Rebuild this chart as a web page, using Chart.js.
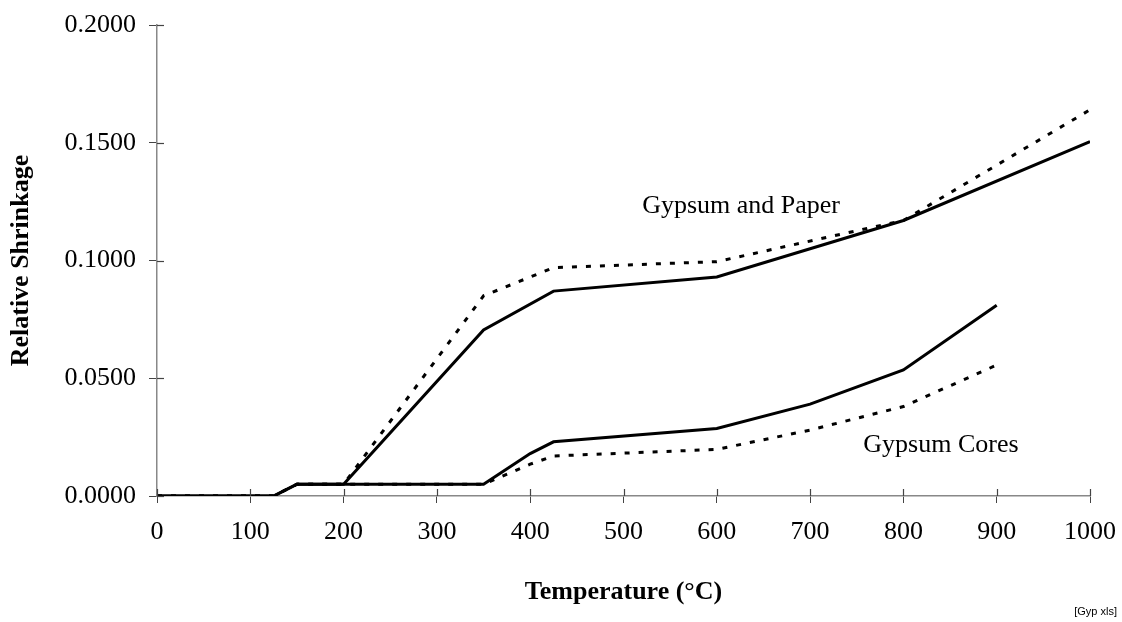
<!DOCTYPE html>
<html>
<head>
<meta charset="utf-8">
<script src="https://cdn.jsdelivr.net/npm/chart.js@4/dist/chart.umd.min.js"></script>
<style>
  body { margin: 0; background: #fff; }
  #wrap { width: 1122px; height: 622px; }
</style>
</head>
<body>
<div id="wrap"><canvas id="shrinkage" width="1122" height="622"></canvas></div>
<script>
// temperatures (°C) and relative shrinkage
const paperTemps = [0, 125, 150, 200, 350, 425, 600, 800, 1000];
const paperSolid = [0, 0, 0.005, 0.005, 0.0705, 0.087, 0.093, 0.117, 0.1505];
const paperDashed = [0, 0, 0.005, 0.005, 0.085, 0.097, 0.0995, 0.117, 0.164];

const coreTemps = [0, 125, 150, 350, 400, 425, 600, 700, 800, 900];
const coreSolid = [0, 0, 0.005, 0.005, 0.018, 0.023, 0.0287, 0.039, 0.0535, 0.081];
const coreDashed = [0, 0, 0.005, 0.005, 0.0135, 0.017, 0.0198, 0.028, 0.038, 0.0556];

// in-plot labels, anchored in data units (left edge, baseline)
const labelTexts = ["Gypsum and Paper", "Gypsum Cores"];
const labelTemps = [520, 757];
const labelValues = [0.12, 0.0188];

const sourceNote = "[Gyp xls]";

const SERIF = "'Liberation Serif', 'Times New Roman', serif";

function toPoints(xs, ys) {
  return xs.map((x, i) => ({ x: x, y: ys[i] }));
}

function lineSet(label, xs, ys, dashed) {
  return {
    label: label,
    data: toPoints(xs, ys),
    borderColor: "#000",
    borderWidth: 3,
    borderDash: dashed ? [5, 9] : [],
    pointRadius: 0,
    tension: 0,
    fill: false
  };
}

// tick marks crossing the axes, plus the text labels
const extrasPlugin = {
  id: "extras",
  afterDraw(chart) {
    const ctx = chart.ctx;
    const xs = chart.scales.x;
    const ys = chart.scales.y;
    const area = chart.chartArea;

    ctx.save();
    ctx.strokeStyle = "#444";
    ctx.lineWidth = 1.2;
    ys.ticks.forEach(t => {
      const py = Math.round(ys.getPixelForValue(t.value)) + 0.5;
      ctx.beginPath();
      ctx.moveTo(area.left, py);
      ctx.lineTo(area.left + 7, py);
      ctx.stroke();
    });
    xs.ticks.forEach(t => {
      const px = Math.round(xs.getPixelForValue(t.value)) + 0.5;
      ctx.beginPath();
      ctx.moveTo(px, area.bottom);
      ctx.lineTo(px, area.bottom - 7);
      ctx.stroke();
    });

    ctx.fillStyle = "#000";
    ctx.font = "26px " + SERIF;
    ctx.textAlign = "left";
    ctx.textBaseline = "alphabetic";
    labelTexts.forEach((txt, i) => {
      ctx.fillText(txt, xs.getPixelForValue(labelTemps[i]), ys.getPixelForValue(labelValues[i]));
    });

    ctx.font = "11px 'Liberation Sans', Arial, sans-serif";
    ctx.textAlign = "right";
    ctx.textBaseline = "middle";
    ctx.fillText(sourceNote, chart.width - 5, 612);
    ctx.restore();
  }
};

const ctx = document.getElementById("shrinkage").getContext("2d");

new Chart(ctx, {
  type: "line",
  data: {
    datasets: [
      lineSet("Gypsum and Paper", paperTemps, paperSolid, false),
      lineSet("Gypsum and Paper (dashed)", paperTemps, paperDashed, true),
      lineSet("Gypsum Cores", coreTemps, coreSolid, false),
      lineSet("Gypsum Cores (dashed)", coreTemps, coreDashed, true)
    ]
  },
  options: {
    responsive: false,
    animation: false,
    layout: { padding: { left: 0, right: 32, top: 25, bottom: 14 } },
    plugins: {
      legend: { display: false },
      tooltip: { enabled: false }
    },
    scales: {
      x: {
        type: "linear",
        min: 0,
        max: 1000,
        ticks: {
          stepSize: 100,
          color: "#000",
          padding: 14,
          maxRotation: 0,
          font: { family: SERIF, size: 26 },
          callback: v => String(v)
        },
        grid: { drawOnChartArea: false, drawTicks: true, tickLength: 7, color: "#444" },
        border: { display: true, color: "#888", width: 1.5 },
        title: {
          display: true,
          text: "Temperature (°C)",
          color: "#000",
          padding: { top: 0, bottom: 0 },
          font: { family: SERIF, size: 26, weight: "bold" }
        },
        afterFit(scale) {
          scale.height = 112;
          scale.paddingLeft = 0;
          scale.paddingRight = 0;
        }
      },
      y: {
        min: 0,
        max: 0.2,
        ticks: {
          stepSize: 0.05,
          color: "#000",
          padding: 13,
          font: { family: SERIF, size: 26 },
          callback: v => v.toFixed(4)
        },
        grid: { drawOnChartArea: false, drawTicks: true, tickLength: 8, color: "#444" },
        border: { display: true, color: "#888", width: 1.5 },
        title: {
          display: true,
          text: "Relative Shrinkage",
          color: "#000",
          padding: { top: 6, bottom: 0 },
          font: { family: SERIF, size: 26, weight: "bold" }
        },
        afterFit(scale) {
          scale.width = 157;
          scale.paddingTop = 0;
          scale.paddingBottom = 0;
        }
      }
    }
  },
  plugins: [extrasPlugin]
});
</script>
</body>
</html>
